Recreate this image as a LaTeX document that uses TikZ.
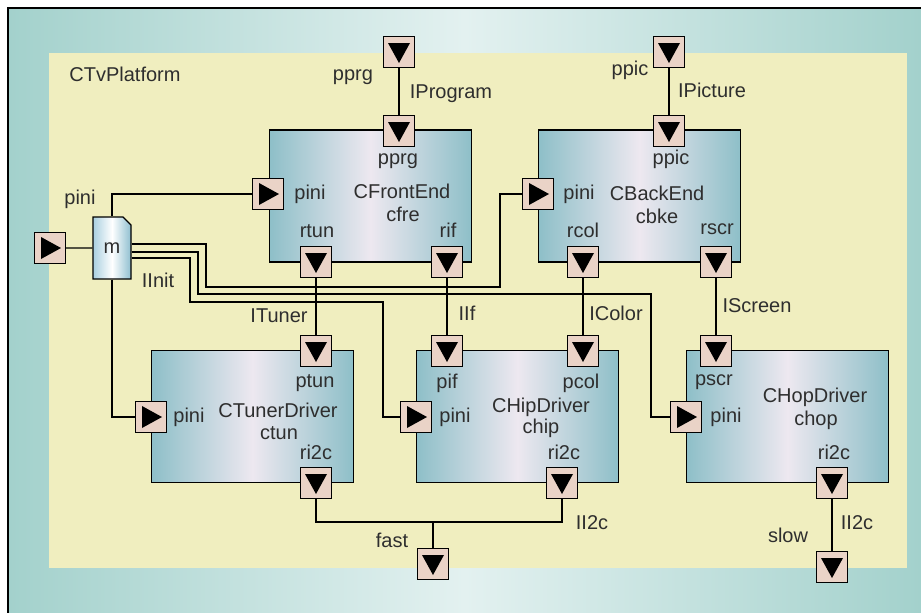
\documentclass[tikz,border=0pt]{standalone}
\usepackage{fontspec}
\setmainfont{Liberation Sans}
\usetikzlibrary{shapes.misc}
\definecolor{tealbg}{HTML}{A3D1CC}
\definecolor{tealhi}{HTML}{E3F1F0}
\definecolor{platyel}{HTML}{F0EEBF}
\definecolor{portpink}{HTML}{EAD3C7}
\definecolor{boxedge}{HTML}{8EBFC8}
\definecolor{boxmid}{HTML}{EDE8F0}
\definecolor{mleft}{HTML}{A9CFE0}
\definecolor{mright}{HTML}{8FBFD0}
\definecolor{txt}{HTML}{2E2E2E}
\begin{document}
\begin{tikzpicture}[x=1pt,y=-1pt,
  font=\fontsize{20pt}{22pt}\selectfont, text=txt,
  wire/.style={line width=1.3pt},
  block/.style={draw, line width=1.5pt, inner sep=0pt, minimum width=202pt, minimum height=132pt,
    left color=boxedge, right color=boxedge, middle color=boxmid},
  portbox/.style={draw, line width=1.3pt, fill=portpink, minimum size=31pt, inner sep=0pt},
  portdn/.style={portbox, path picture={\fill[black] (path picture bounding box.center)
    ++(-11pt,9pt) -- ++(22pt,0pt) -- ++(-11pt,-20pt) -- cycle;}},
  portrt/.style={portbox, path picture={\fill[black] (path picture bounding box.center)
    ++(-9pt,11pt) -- ++(0pt,-22pt) -- ++(20pt,11pt) -- cycle;}},
  lbl/.style={inner sep=0pt, text height=14pt, text depth=4pt}]
\useasboundingbox (0,0) rectangle (921,613);
% background
\fill[left color=tealbg, right color=tealbg, middle color=tealhi] (8,8) rectangle (921,613);
\fill[platyel] (49,53) rectangle (907,568);
\draw[line width=2pt] (8,613) -- (8,8) -- (921,8);
% blocks
\node[block] (cfre) at (370.5,196) {};
\node[block] (cbke) at (639.5,196) {};
\node[block] (ctun) at (252.5,416.5) {};
\node[block] (chip) at (517.5,416.5) {};
\node[block] (chop) at (787.5,416.5) {};
\node[draw, line width=1.3pt, chamfered rectangle, chamfered rectangle corners=north east,
  chamfered rectangle xsep=4pt, chamfered rectangle ysep=4pt, inner sep=0pt,
  minimum width=38pt, minimum height=62pt, left color=mleft, right color=mright, middle color=white] (m) at (112,248) {m};
% ports
\node[portdn] (pprg) at (399,52) {};
\node[portdn] (ppic) at (669,52) {};
\node[portrt] (pini) at (50,248) {};
\node[portdn] (fast) at (433,564) {};
\node[portdn] (slow) at (832,567) {};
\node[portdn] (fe-pprg) at (399,131) {};
\node[portrt] (fe-pini) at (268,194) {};
\node[portdn] (fe-rtun) at (316,262) {};
\node[portdn] (fe-rif) at (447,262) {};
\node[portdn] (be-ppic) at (669,131) {};
\node[portrt] (be-pini) at (538,194) {};
\node[portdn] (be-rcol) at (583,262) {};
\node[portdn] (be-rscr) at (716,262) {};
\node[portdn] (tun-ptun) at (316,351) {};
\node[portrt] (tun-pini) at (151,417) {};
\node[portdn] (tun-ri2c) at (316,483) {};
\node[portdn] (hip-pif) at (447,351) {};
\node[portdn] (hip-pcol) at (583,351) {};
\node[portrt] (hip-pini) at (416,417) {};
\node[portdn] (hip-ri2c) at (562,483) {};
\node[portdn] (hop-pscr) at (716,351) {};
\node[portrt] (hop-pini) at (686,417) {};
\node[portdn] (hop-ri2c) at (832,483) {};
\coordinate (fastj) at (433,522);
% wires
\draw[wire] (pprg) -- (fe-pprg);
\draw[wire] (ppic) -- (be-ppic);
\draw[wire] (pini) -- (m);
\draw[wire] (m.north) |- (fe-pini);
\draw[wire] (m.south) |- (tun-pini);
\draw[wire] ([yshift=4pt]m.east) -| (206,287) -- (500,287) |- (be-pini);
\draw[wire] ([yshift=-4pt]m.east) -| (198,294) -- (651,294) |- (hop-pini);
\draw[wire] ([yshift=-10pt]m.east) -| (190,302) -- (383,302) |- (hip-pini);
\draw[wire] (fe-rtun) -- (tun-ptun);
\draw[wire] (fe-rif) -- (hip-pif);
\draw[wire] (be-rcol) -- (hip-pcol);
\draw[wire] (be-rscr) -- (hop-pscr);
\draw[wire] (tun-ri2c) |- (fastj) -| (hip-ri2c);
\draw[wire] (fastj) -- (fast);
\draw[wire] (hop-ri2c) -- (slow);
% texts
\node[lbl] (t-plat) at (125,76) {CTvPlatform};
\node[lbl] (t-pprg) at (353,75) {pprg};
\node[lbl] (t-iprog) at (451,93) {IProgram};
\node[lbl] (t-ppic) at (630,70) {ppic};
\node[lbl] (t-ipic) at (712,92) {IPicture};
\node[lbl] (t-pini) at (80,199) {pini};
\node[lbl] (t-iinit) at (158,282) {IInit};
\node[lbl] (t-fe-pprg) at (398,159) {pprg};
\node[lbl] (t-fe-pini) at (310,194) {pini};
\node[lbl] (t-fe) at (402,193) {CFrontEnd};
\node[lbl] (t-cfre) at (403,216) {cfre};
\node[lbl] (t-fe-rtun) at (317,232) {rtun};
\node[lbl] (t-fe-rif) at (448,232) {rif};
\node[lbl] (t-be-ppic) at (671,159) {ppic};
\node[lbl] (t-be-pini) at (579,194) {pini};
\node[lbl] (t-be) at (657,195) {CBackEnd};
\node[lbl] (t-cbke) at (657,218) {cbke};
\node[lbl] (t-be-rcol) at (583,232) {rcol};
\node[lbl] (t-be-rscr) at (717,229) {rscr};
\node[lbl] (t-ituner) at (279,317) {ITuner};
\node[lbl] (t-iif) at (467,315) {IIf};
\node[lbl] (t-icolor) at (616,315) {IColor};
\node[lbl] (t-iscreen) at (757,307) {IScreen};
\node[lbl] (t-tun-ptun) at (315,382) {ptun};
\node[lbl] (t-tun-pini) at (189,417) {pini};
\node[lbl] (t-tun) at (278,412) {CTunerDriver};
\node[lbl] (t-ctun) at (279,434) {ctun};
\node[lbl] (t-tun-ri2c) at (316,454) {ri2c};
\node[lbl] (t-hip-pif) at (447,383) {pif};
\node[lbl] (t-hip-pcol) at (581,383) {pcol};
\node[lbl] (t-hip-pini) at (455,417) {pini};
\node[lbl] (t-hip) at (541,407) {CHipDriver};
\node[lbl] (t-chip) at (541,428) {chip};
\node[lbl] (t-hip-ri2c) at (564,454) {ri2c};
\node[lbl] (t-hop-pscr) at (714,380) {pscr};
\node[lbl] (t-hop-pini) at (726,417) {pini};
\node[lbl] (t-hop) at (815,397) {CHopDriver};
\node[lbl] (t-chop) at (816,420) {chop};
\node[lbl] (t-hop-ri2c) at (834,454) {ri2c};
\node[lbl] (t-fast) at (392,542) {fast};
\node[lbl] (t-fast-ii2c) at (592,524) {II2c};
\node[lbl] (t-slow) at (788,537) {slow};
\node[lbl] (t-slow-ii2c) at (857,524) {II2c};
\end{tikzpicture}
\end{document}
